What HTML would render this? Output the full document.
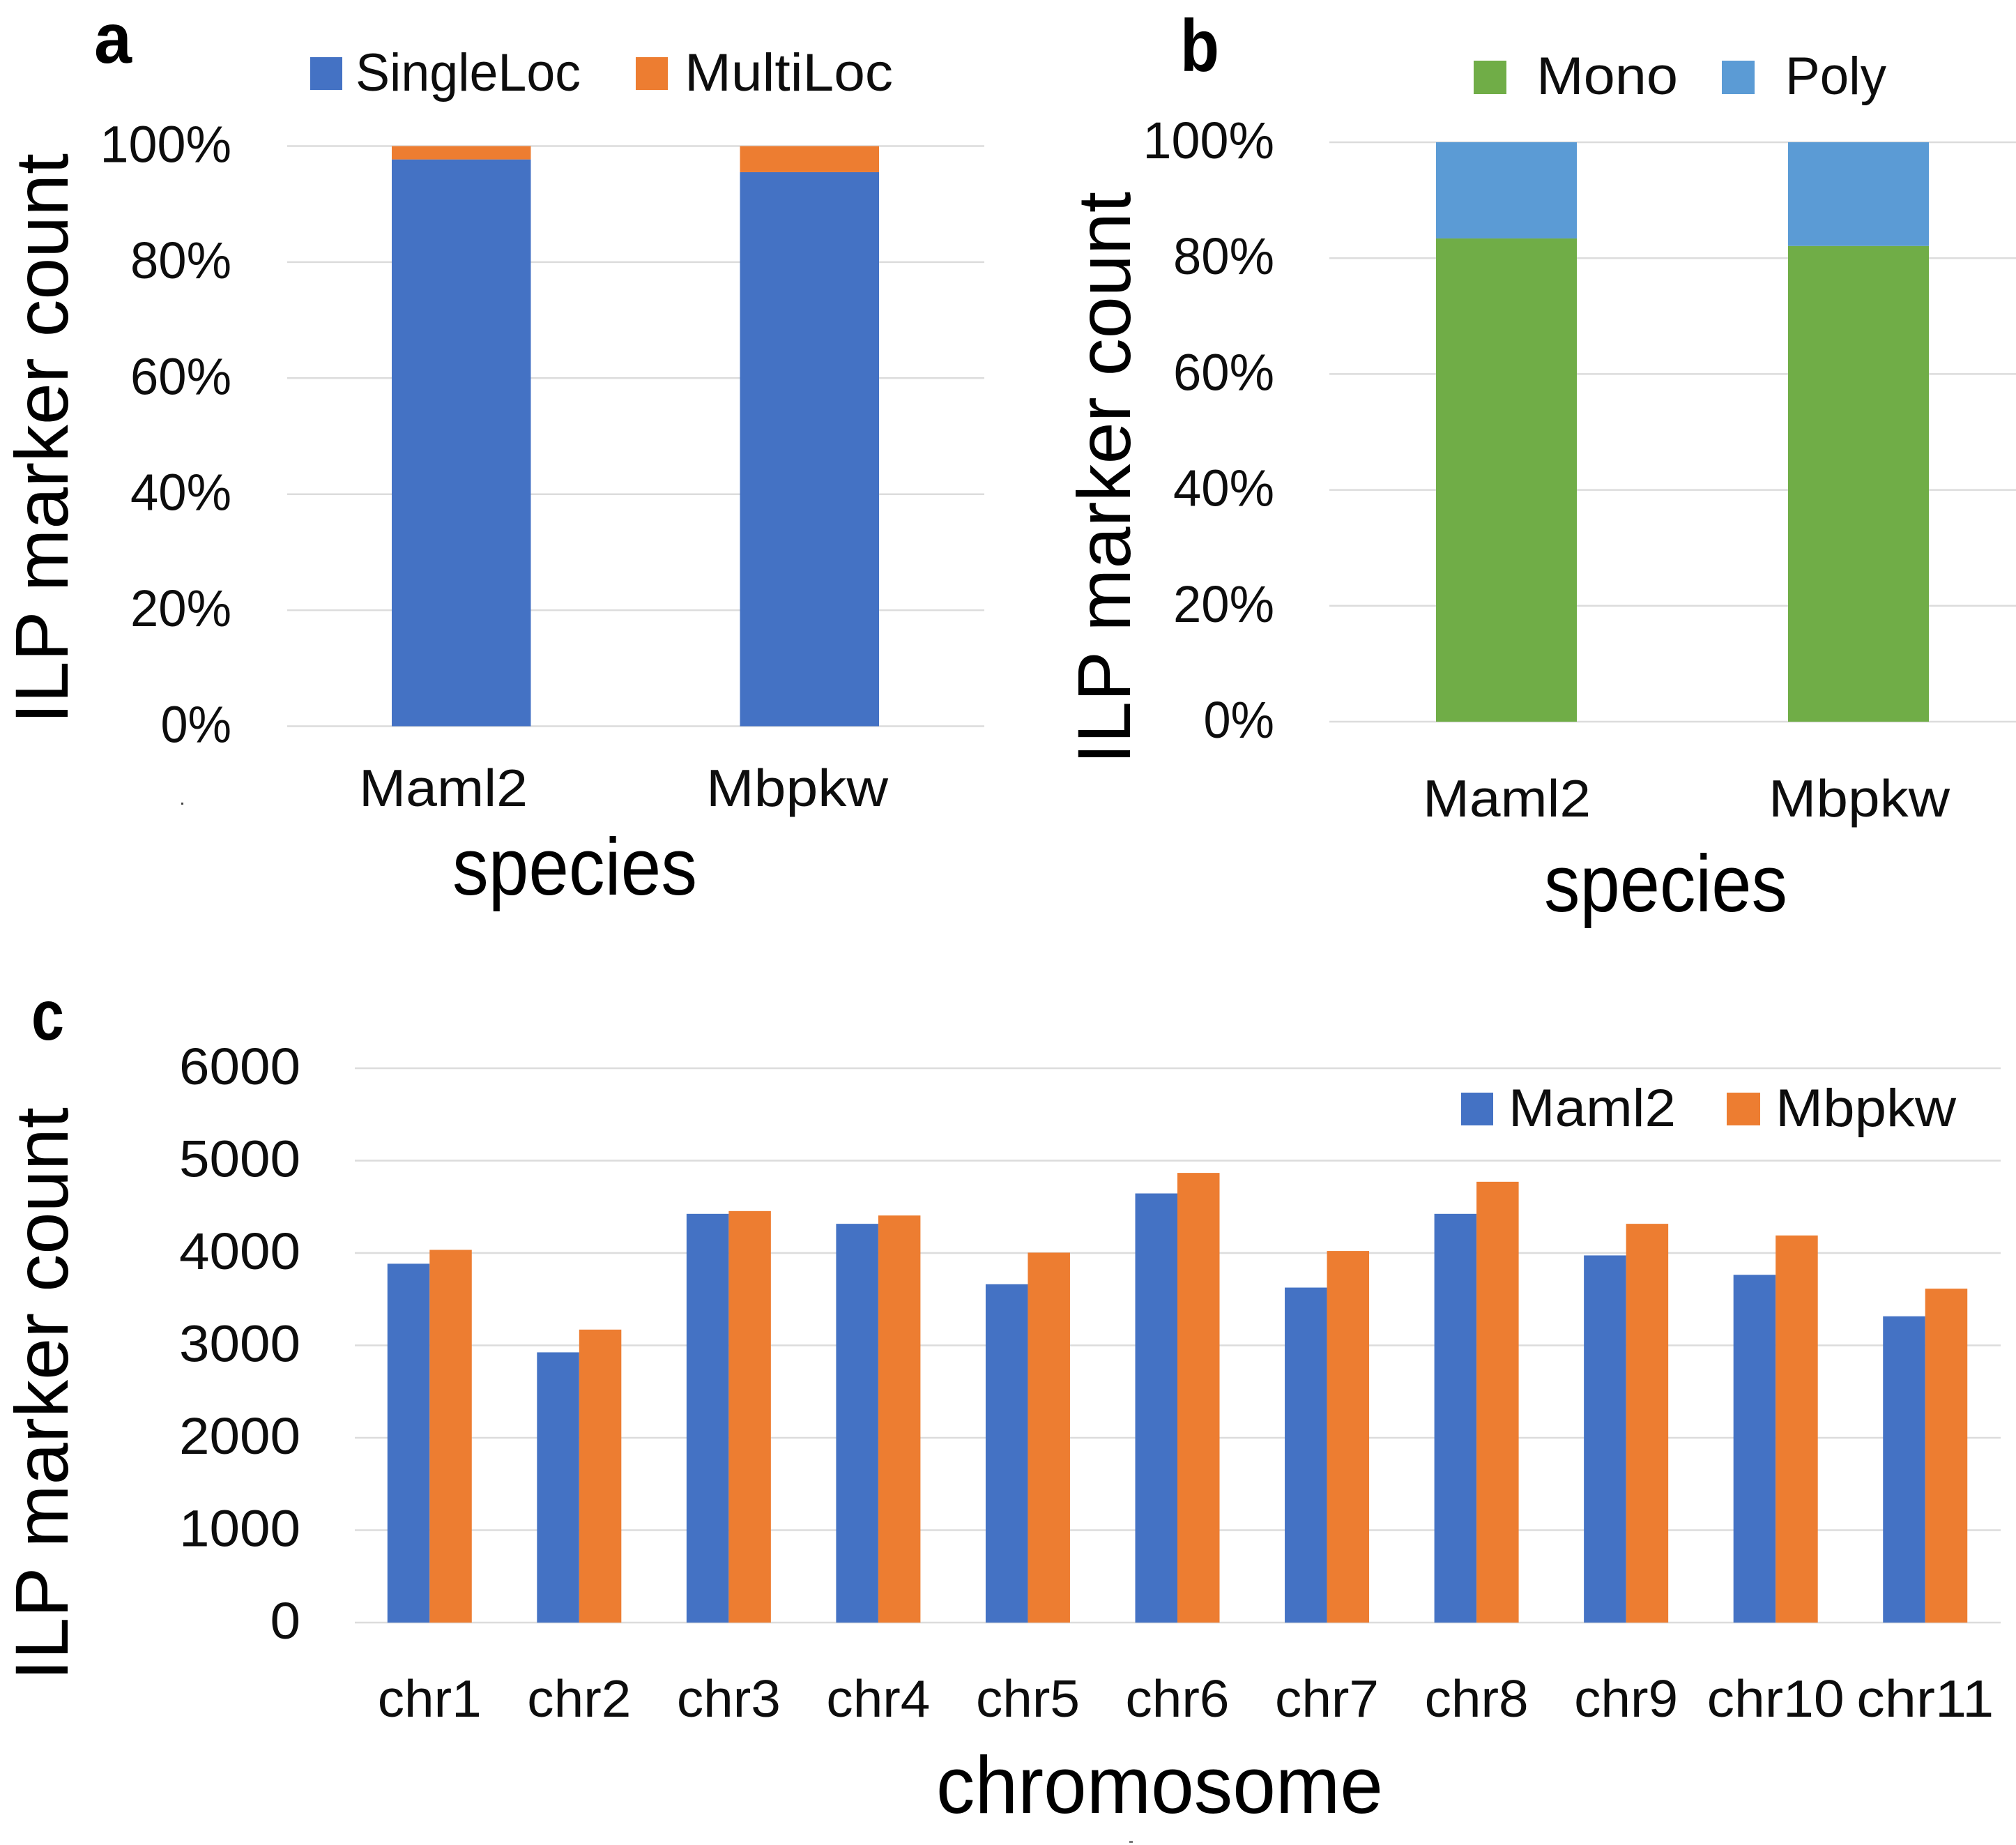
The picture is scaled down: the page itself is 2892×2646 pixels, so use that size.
<!DOCTYPE html>
<html lang="en">
<head>
<meta charset="utf-8">
<title>ILP marker count charts</title>
<style>
html,body{margin:0;padding:0;background:#fff;}
svg{display:block;}
text{font-family:"Liberation Sans",sans-serif;fill:#0d0d0d;}
.b{font-weight:bold;fill:#000;}
.tick{font-size:74px;}
.leg{font-size:76px;}
.cat{font-size:75px;}
.axis{font-size:108px;fill:#000;}
.xaxis{font-size:116px;fill:#000;}
</style>
</head>
<body>
<svg id="figure" xmlns="http://www.w3.org/2000/svg" width="2892" height="2646" viewBox="0 0 2892 2646">
  <rect x="0" y="0" width="2892" height="2646" fill="#ffffff"/>

  <g id="panel-a">
    <text class="b" x="135" y="90" font-size="102" textLength="54" lengthAdjust="spacingAndGlyphs">a</text>
    <g>
      <rect x="445" y="82" width="46" height="47" fill="#4472c4"/>
      <text class="leg" x="510" y="130" textLength="323" lengthAdjust="spacingAndGlyphs">SingleLoc</text>
      <rect x="912" y="82" width="46" height="47" fill="#ed7d31"/>
      <text class="leg" x="982" y="130" textLength="299" lengthAdjust="spacingAndGlyphs">MultiLoc</text>
    </g>
    <text class="axis" x="97" y="1038" transform="rotate(-90 97 1038)" textLength="818" lengthAdjust="spacingAndGlyphs">ILP marker count</text>
    <text class="cat" x="515" y="1156" textLength="242" lengthAdjust="spacingAndGlyphs">Maml2</text>
    <text class="cat" x="1013" y="1156" textLength="261" lengthAdjust="spacingAndGlyphs">Mbpkw</text>
    <text class="xaxis" x="649" y="1283" textLength="351" lengthAdjust="spacingAndGlyphs">species</text>
    <rect x="260" y="1151" width="3" height="3" fill="#444"/>
  </g>

  <g id="panel-b">
    <text class="b" x="1693" y="102" font-size="106" textLength="56" lengthAdjust="spacingAndGlyphs">b</text>
    <g>
      <rect x="2114" y="87" width="47" height="48" fill="#70ad47"/>
      <text class="leg" x="2204" y="135" textLength="203" lengthAdjust="spacingAndGlyphs">Mono</text>
      <rect x="2470" y="87" width="47" height="48" fill="#5b9bd5"/>
      <text class="leg" x="2561" y="135" textLength="145" lengthAdjust="spacingAndGlyphs">Poly</text>
    </g>
    <text class="axis" x="1621" y="1096" transform="rotate(-90 1621 1096)" textLength="821" lengthAdjust="spacingAndGlyphs">ILP marker count</text>
    <text class="cat" x="2041" y="1171" textLength="241" lengthAdjust="spacingAndGlyphs">Maml2</text>
    <text class="cat" x="2537" y="1171" textLength="260" lengthAdjust="spacingAndGlyphs">Mbpkw</text>
    <text class="xaxis" x="2215" y="1307" textLength="349" lengthAdjust="spacingAndGlyphs">species</text>
  </g>

  <g id="panel-c">
    <text class="b" x="45" y="1491" font-size="102" textLength="47" lengthAdjust="spacingAndGlyphs">c</text>
    <text class="axis" x="97" y="2410" transform="rotate(-90 97 2410)" textLength="822" lengthAdjust="spacingAndGlyphs">ILP marker count</text>
    <text class="xaxis" x="1343" y="2600" textLength="641" lengthAdjust="spacingAndGlyphs">chromosome</text>
    <rect x="1620" y="2640" width="5" height="3" fill="#777"/>
  </g>
</svg>

<script>
// Panel a data (percent of markers)
const speciesA = ["Maml2", "Mbpkw"];
const singleLoc = [97.7, 95.5];
const multiLoc = [2.3, 4.5];

// Panel b data (percent of markers)
const speciesB = ["Maml2", "Mbpkw"];
const mono = [83.4, 82.1];
const poly = [16.6, 17.9];

// Panel c data (marker counts)
const chromosomes = ["chr1", "chr2", "chr3", "chr4", "chr5", "chr6", "chr7", "chr8", "chr9", "chr10", "chr11"];
const maml2 = [3884, 2925, 4424, 4316, 3662, 4645, 3626, 4424, 3974, 3764, 3315];
const mbpkw = [4034, 3171, 4454, 4406, 4004, 4867, 4022, 4771, 4316, 4190, 3614];

// Tick labels
const percentTicks = [0, 20, 40, 60, 80, 100];
const countTicks = [0, 1000, 2000, 3000, 4000, 5000, 6000];

const NS = "http://www.w3.org/2000/svg";
const BLUE = "#4472c4", ORANGE = "#ed7d31", GREEN = "#70ad47", SKY = "#5b9bd5";

function scaleY(y0, y1, max) {
  return function (v) { return y0 - (v / max) * (y0 - y1); };
}

function drawGrid(parent, panel, ticks, y, x0, x1, suffix, right) {
  ticks.forEach(function (t) {
    const line = document.createElementNS(NS, "line");
    line.setAttribute("x1", x0);
    line.setAttribute("x2", x1);
    line.setAttribute("y1", y(t));
    line.setAttribute("y2", y(t));
    line.setAttribute("stroke", "#dcdcdc");
    line.setAttribute("stroke-width", "2.5");
    
    
    parent.appendChild(line);

    const label = String(t) + suffix;
    const w = String(t).length * 43.5 + (suffix ? 58 : 0);
    const txt = document.createElementNS(NS, "text");
    txt.setAttribute("class", "tick");
    txt.setAttribute("x", right + 2 - w);
    txt.setAttribute("y", y(t) + 23);
    txt.setAttribute("textLength", w);
    txt.setAttribute("lengthAdjust", "spacingAndGlyphs");
    
    
    txt.textContent = label;
    parent.appendChild(txt);
  });
}

function drawBar(parent, name, x, w, yTop, yBottom, color) {
  const r = document.createElementNS(NS, "rect");
  r.setAttribute("x", x);
  r.setAttribute("y", yTop);
  r.setAttribute("width", w);
  r.setAttribute("height", Math.max(0, yBottom - yTop));
  r.setAttribute("fill", color);
  
  
  parent.appendChild(r);
}

function drawStacked(parent, panel, cats, lower, upper, colorLower, colorUpper, y, x0, band, barW) {
  cats.forEach(function (c, i) {
    const cx = x0 + band * (i + 0.5);
    const key = c.toLowerCase();
    drawBar(parent, 'bar-' + panel + '-' + key + '-lower', cx - barW / 2, barW, y(lower[i]), y(0), colorLower);
    drawBar(parent, 'bar-' + panel + '-' + key + '-upper', cx - barW / 2, barW, y(lower[i] + upper[i]), y(lower[i]), colorUpper);
  });
}

// Panel a
const groupA = document.getElementById("panel-a");
const yA = scaleY(1041.5, 209.5, 100);
drawGrid(groupA, "a", percentTicks, yA, 412, 1412, "%", 330);
drawStacked(groupA, "a", speciesA, singleLoc, multiLoc, BLUE, ORANGE, yA, 412, 499.5, 199.5);

// Panel b
const groupB = document.getElementById("panel-b");
const yB = scaleY(1035, 204, 100);
drawGrid(groupB, "b", percentTicks, yB, 1907, 2892, "%", 1826);
drawStacked(groupB, "b", speciesB, mono, poly, GREEN, SKY, yB, 1908.5, 505, 202);

// Panel c
const groupC = document.getElementById("panel-c");
const yC = scaleY(2327, 1532, 6000);
const cX0 = 509, cBand = (2869 - 509) / chromosomes.length, cBarW = 60.5;
drawGrid(groupC, "c", countTicks, yC, cX0, 2870, "", 429);
chromosomes.forEach(function (c, i) {
  const cx = cX0 + cBand * (i + 0.5);
  drawBar(groupC, 'bar-maml2-' + c, cx - cBarW, cBarW, yC(maml2[i]), yC(0), BLUE);
  drawBar(groupC, 'bar-mbpkw-' + c, cx, cBarW, yC(mbpkw[i]), yC(0), ORANGE);

  const w = c.length > 4 ? 197 : 149;
  const lab = document.createElementNS(NS, "text");
  lab.setAttribute("class", "cat");
  lab.setAttribute("x", cx - w / 2);
  lab.setAttribute("y", 2462);
  lab.setAttribute("textLength", w);
  lab.setAttribute("lengthAdjust", "spacingAndGlyphs");
  
  
  lab.textContent = c;
  groupC.appendChild(lab);
});

// Panel c legend sits over the gridlines, so it is appended after them
const legendC = document.createElementNS(NS, "g");


groupC.appendChild(legendC);
drawBar(legendC, 'legend-swatch-maml2', 2096, 46, 1567, 1614, BLUE);
drawBar(legendC, 'legend-swatch-mbpkw', 2477, 48, 1567, 1614, ORANGE);

const legMaml = document.createElementNS(NS, "text");
legMaml.setAttribute("class", "leg");
legMaml.setAttribute("x", 2164);
legMaml.setAttribute("y", 1615);
legMaml.setAttribute("textLength", 240);
legMaml.setAttribute("lengthAdjust", "spacingAndGlyphs");


legMaml.textContent = "Maml2";
legendC.appendChild(legMaml);

const legMb = document.createElementNS(NS, "text");
legMb.setAttribute("class", "leg");
legMb.setAttribute("x", 2547);
legMb.setAttribute("y", 1615);
legMb.setAttribute("textLength", 259);
legMb.setAttribute("lengthAdjust", "spacingAndGlyphs");


legMb.textContent = "Mbpkw";
legendC.appendChild(legMb);
</script>
</body>
</html>
